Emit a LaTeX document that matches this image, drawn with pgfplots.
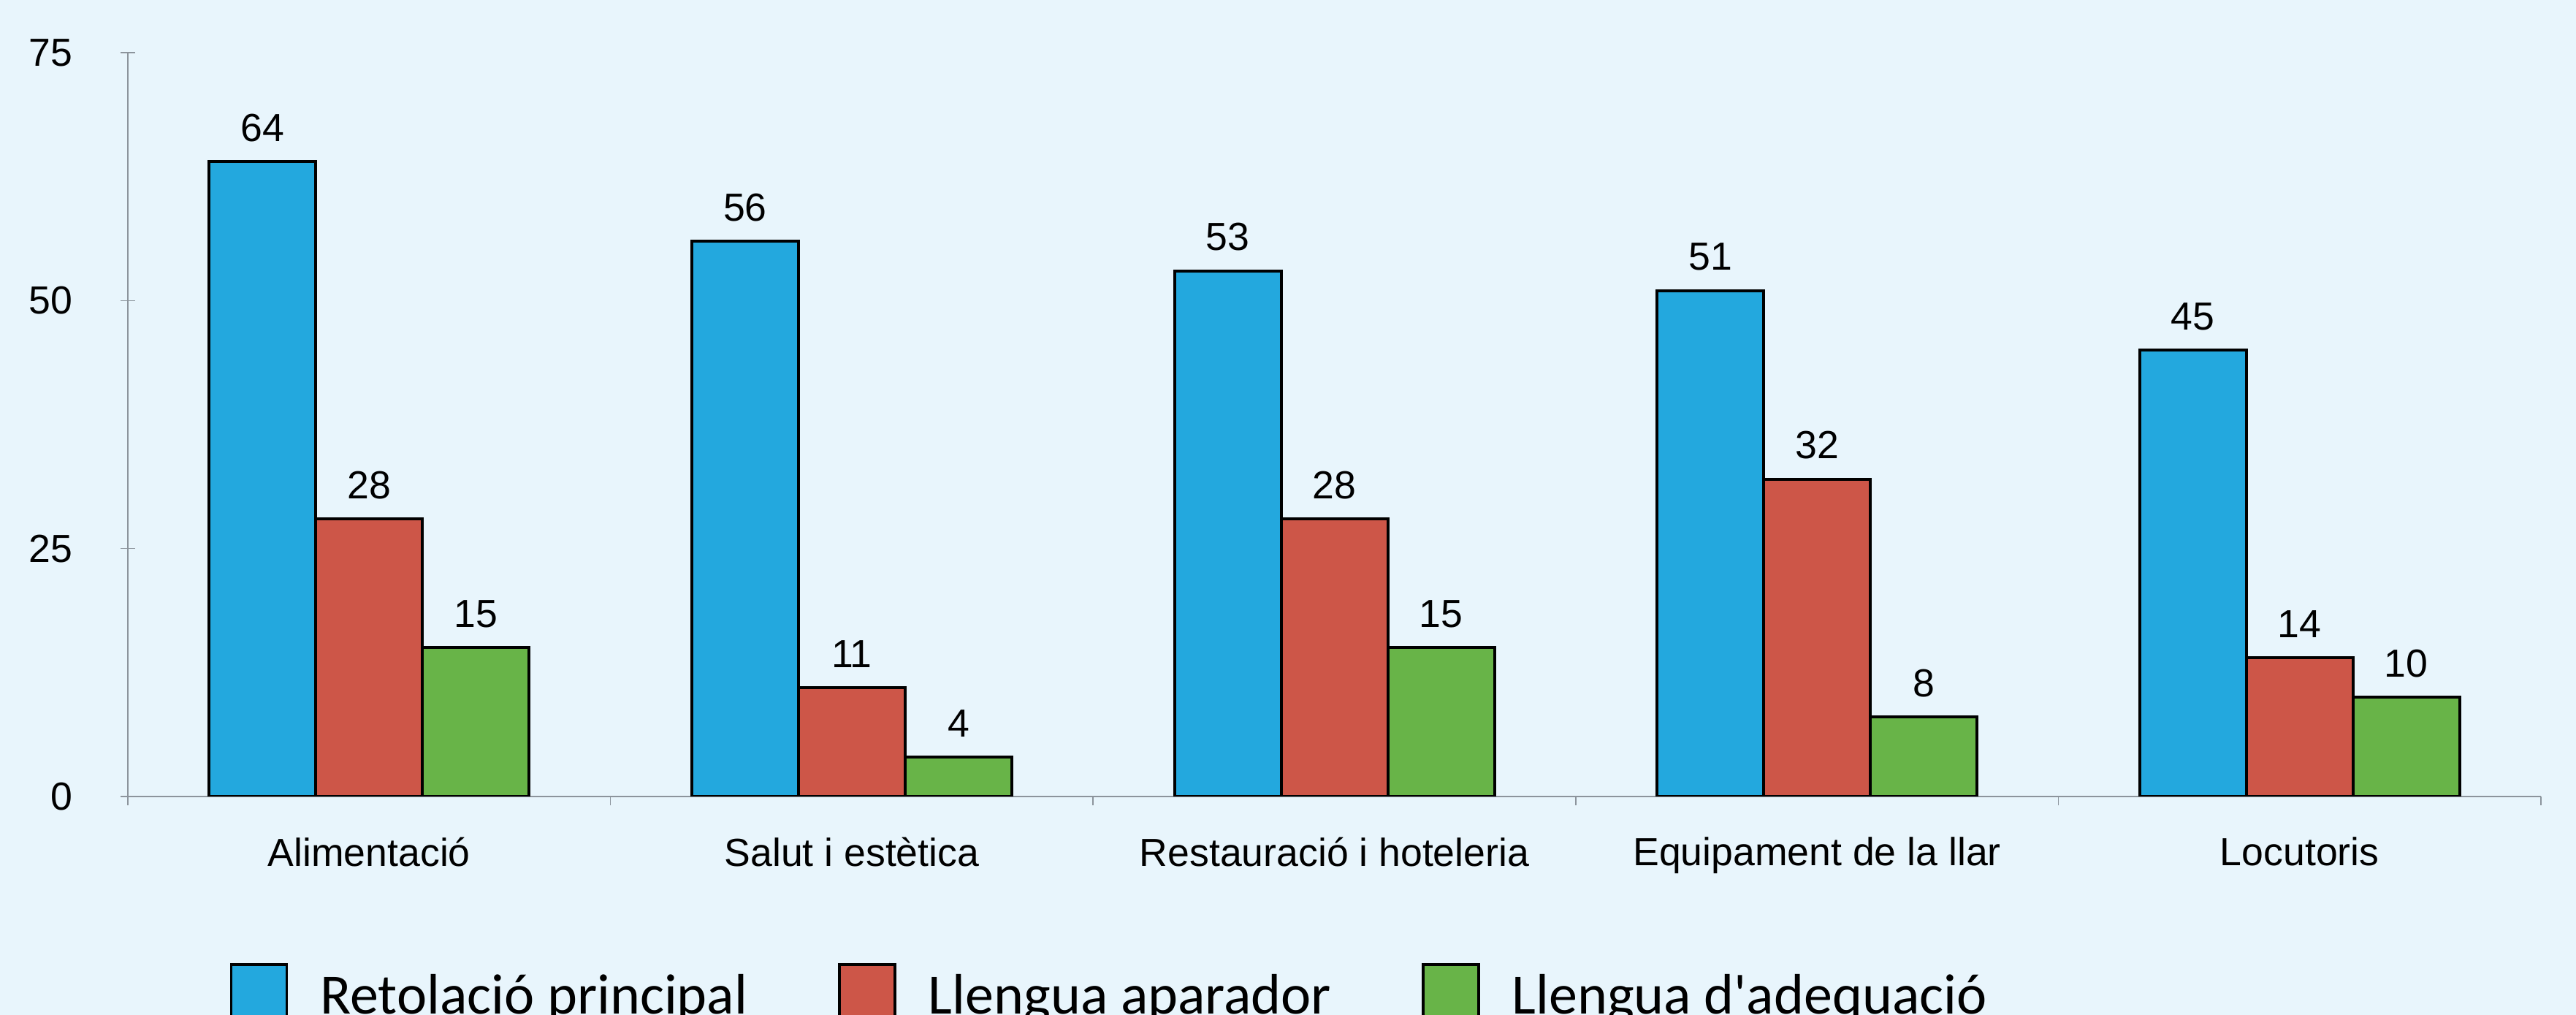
\documentclass[border=0pt]{standalone}
\usepackage{pgfplots}
\pgfplotsset{compat=1.18}
\usepackage{fontspec}
\setmainfont{Liberation Sans}
\newfontfamily\legendfont{Carlito}
\definecolor{bg}{RGB}{232,245,252}
\definecolor{axisgray}{RGB}{140,148,156}
\definecolor{cblue}{RGB}{35,168,222}
\definecolor{cred}{RGB}{205,86,72}
\definecolor{cgreen}{RGB}{104,180,72}
\pgfplotsset{ybar legend/.style={legend image code/.code={\draw[##1,/tikz/.cd,draw=black,line width=0.9pt] (0pt,-11pt) rectangle (19pt,11pt);}}}
\begin{document}
\begin{tikzpicture}[font=\fontsize{13.4}{16}\selectfont]
\fill[bg] (0,0) rectangle (881.5pt,347.25pt);
\begin{axis}[
  at={(43.75pt,74.75pt)}, anchor=south west,
  scale only axis, width=825.75pt, height=254.5pt,
  ybar=0pt, bar width=36.5pt,
  xmin=-0.5, xmax=4.5, ymin=0, ymax=75,
  axis x line*=bottom, axis y line*=left,
  axis line style={draw=axisgray, line width=0.4pt, -},
  xtick={0,1,2,3,4},
  xticklabels={Alimentació, Salut i estètica, Restauració i hoteleria, Equipament de la llar, Locutoris},
  major x tick style={draw=none},
  minor xtick={-0.5,0.5,1.5,2.5,3.5,4.5},
  xtick align=outside,
  ytick={0,25,50,75}, ytick align=center,
  major tick length=5pt, minor tick length=3pt,
  tick style={draw=axisgray, line width=0.4pt},
  xticklabel style={yshift=-5.5pt},
  yticklabel style={xshift=-13pt},
  /pgf/number format/assume math mode=true,
  nodes near coords,
  nodes near coords style={font=\fontsize{13.4}{16}\selectfont, yshift=3pt},
  every axis plot/.append style={draw=black, line width=1pt},
  legend columns=3,
  legend style={font=\legendfont\fontsize{19.5}{23}\selectfont, draw=none, fill=none,
    inner sep=0pt, outer sep=0pt, at={(0,0)}, anchor=north west,
    xshift=34.95pt, yshift=-57pt, nodes={inner sep=0pt},
    /tikz/every odd column/.append style={column sep=11pt},
    /tikz/every even column/.append style={column sep=31pt}},
]
\addplot[fill=cblue] coordinates {(0,64) (1,56) (2,53) (3,51) (4,45)};
\addplot[fill=cred] coordinates {(0,28) (1,11) (2,28) (3,32) (4,14)};
\addplot[fill=cgreen] coordinates {(0,15) (1,4) (2,15) (3,8) (4,10)};
\legend{Retolació principal, Llengua aparador, Llengua d\textquotesingle adequació}
\end{axis}
\pgfresetboundingbox
\useasboundingbox (0,0) rectangle (881.5pt,347.25pt);
\end{tikzpicture}
\end{document}
